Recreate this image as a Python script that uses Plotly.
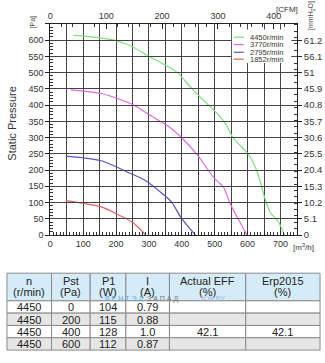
import plotly.graph_objects as go

# ---------------- data ----------------
speeds = ["4450r/min", "3770r/min", "2795r/min", "1852r/min"]
colors = ["rgb(125,225,125)", "rgb(225,105,225)", "rgb(85,85,205)", "rgb(225,95,95)"]

q_4450 = [70, 120, 194, 250, 300, 340, 386, 431, 471, 502, 532, 557, 603, 628, 643, 650, 668, 694, 712]
p_4450 = [615, 611, 600, 580, 550, 529, 501, 450, 410, 380, 344, 298, 248, 197, 147, 121, 71, 40, 0]
q_3770 = [62, 158, 254, 300, 360, 401, 446, 497, 527, 547, 573, 598]
p_3770 = [447, 435, 400, 371, 334, 298, 248, 177, 147, 96, 46, 0]
q_2795 = [47, 98, 158, 239, 290, 340, 370, 396, 441]
p_2795 = [243, 238, 228, 192, 167, 128, 100, 56, 0]
q_1852 = [47, 98, 158, 199, 249, 290]
p_1852 = [106, 98, 86, 66, 40, 0]

pa_ticks = list(range(0, 651, 50))
mmh2o_ticks = ["0", "5.1", "10.2", "15.3", "20.4", "25.5", "30.6", "35.7", "40.8", "45.9", "51", "56.1", "61.2"]
m3h_ticks = list(range(0, 751, 50))
cfm_ticks = [0, 100, 200, 300, 400]

tbl_header_top = ["n", "Pst", "P1", "I", "Actual EFF", "Erp2015"]
tbl_header_bot = ["(r/min)", "(Pa)", "(W)", "(A)", "(%)", "(%)"]
tbl_n = ["4450", "4450", "4450", "4450"]
tbl_pst = ["0", "200", "400", "600"]
tbl_p1 = ["104", "115", "128", "112"]
tbl_i = ["0.79", "0.88", "1.0", "0.87"]
tbl_eff = ["", "", "42.1", ""]
tbl_erp = ["", "", "42.1", ""]

# ---------------- layout helpers ----------------
W, H = 325, 363
def px(x): return x / W
def py(y): return 1 - y / H

FONT = "Liberation Sans, Arial, sans-serif"
TICKC = "#333"
GRIDC = "#444"

fig = go.Figure()

# helper traces so the secondary axes are drawn (added first so they sit underneath)
fig.add_trace(go.Scatter(x=[0], y=[0], xaxis="x2", yaxis="y", mode="markers",
                         marker=dict(opacity=0), showlegend=False, hoverinfo="skip"))
fig.add_trace(go.Scatter(x=[0], y=[0], xaxis="x", yaxis="y2", mode="markers",
                         marker=dict(opacity=0), showlegend=False, hoverinfo="skip"))

series = [(q_4450, p_4450), (q_3770, p_3770), (q_2795, p_2795), (q_1852, p_1852)]
for (q, p), name, col in zip(series, speeds, colors):
    fig.add_trace(go.Scatter(x=q, y=p, mode="lines", name=name,
                             line=dict(color=col, width=1.2, shape="spline", smoothing=0.8),
                             showlegend=False, hoverinfo="skip"))

x_dom = [px(47.7), px(296.7)]
y_dom = [py(238.3), py(24.3)]

fig.update_layout(
    width=W, height=H,
    margin=dict(l=0, r=0, t=0, b=0),
    paper_bgcolor="white", plot_bgcolor="rgba(0,0,0,0)",
    font=dict(family=FONT, size=9, color=TICKC),
    xaxis=dict(domain=x_dom, range=[0, 750], tickvals=m3h_ticks,
               ticktext=[str(v) if v % 100 == 0 and v < 750 else "" for v in m3h_ticks],
               showgrid=True, gridcolor=GRIDC, gridwidth=1,
               showline=True, linecolor="#222", linewidth=1,
               ticks="inside", ticklen=4, tickcolor="#222",
               minor=dict(dtick=10, ticks="inside", ticklen=3, tickcolor="#333", showgrid=False),
               tickfont=dict(size=9, color=TICKC), zeroline=False, fixedrange=True),
    yaxis=dict(domain=y_dom, range=[0, 650], tickvals=pa_ticks,
               ticktext=[str(v) if v <= 600 else "" for v in pa_ticks],
               showgrid=True, gridcolor=GRIDC, gridwidth=1,
               showline=True, linecolor="#222", linewidth=1,
               ticks="outside", ticklen=4, tickcolor="#222",
               minor=dict(dtick=10, ticks="inside", ticklen=3, tickcolor="#333", showgrid=False),
               tickfont=dict(size=9, color=TICKC), zeroline=False, fixedrange=True),
    xaxis2=dict(domain=x_dom, side="top", anchor="y", range=[0, 750 / 1.699],
                tickvals=cfm_ticks, showgrid=False, showticklabels=True,
                showline=True, linecolor="#222", linewidth=1,
                ticks="inside", ticklen=5, tickcolor="#222",
                minor=dict(dtick=20, ticks="inside", ticklen=3, tickcolor="#333", showgrid=False),
                tickfont=dict(size=9, color=TICKC), zeroline=False, fixedrange=True),
    yaxis2=dict(overlaying="y", side="right", anchor="x", range=[0, 650 / 9.80665],
                tickvals=[v / 9.80665 for v in pa_ticks[:13]], ticktext=mmh2o_ticks,
                showgrid=False, showline=True, linecolor="#222", linewidth=1,
                ticks="outside", ticklen=4, tickcolor="#222",
                minor=dict(dtick=2, ticks="inside", ticklen=3, tickcolor="#333"),
                tickfont=dict(size=9.5, color=TICKC), zeroline=False, fixedrange=True),
)

shapes = []
annots = []

# ---------------- legend (custom, compact) ----------------
shapes.append(dict(type="rect", xref="paper", yref="paper", x0=px(231), x1=px(291), y0=py(64), y1=py(30),
                   fillcolor="white", line=dict(width=0), layer="above"))
leg_y = [37.7, 45.2, 53.0, 60.0]
for name, col, yy in zip(speeds, colors, leg_y):
    shapes.append(dict(type="line", xref="paper", yref="paper", x0=px(233), x1=px(243),
                       y0=py(yy), y1=py(yy), line=dict(color=col, width=1.2), layer="above"))
    annots.append(dict(text=name, xref="paper", yref="paper", x=px(247), y=py(yy),
                       xanchor="left", yanchor="middle", showarrow=False,
                       font=dict(size=7.5, color="#333", family=FONT)))

# axis unit labels
units = [
    dict(text="[Pa]", x=px(30), y=py(22), textangle=-90, font=dict(size=7, color="#444")),
    dict(text="[CFM]", x=px(287), y=py(10), font=dict(size=8, color="#333")),
    dict(text="[mmH<sub>2</sub>O]", x=px(311), y=py(16), textangle=-90, font=dict(size=7, color="#444")),
    dict(text="[m<sup>3</sup>/h]", x=px(303), y=py(250), font=dict(size=8, color="#333")),
    dict(text="Static Pressure", x=px(9.5), y=py(125), textangle=-90, font=dict(size=11, color="#333")),
]
for a in units:
    a.update(xref="paper", yref="paper", showarrow=False, xanchor="center", yanchor="middle")
    a["font"]["family"] = FONT
annots += units

# ---------------- table (cells drawn as rectangles + text) ----------------
col_widths = [45, 39, 36, 44, 77, 75]
tbl_x0 = 4
hdr_top, hdr_h, row_h = 277, 28, 12.5
row_fill = ["white", "#e6e6e6", "white", "#e6e6e6"]
columns = [tbl_n, tbl_pst, tbl_p1, tbl_i, tbl_eff, tbl_erp]
edges = [tbl_x0]
for w in col_widths:
    edges.append(edges[-1] + w)
BORDER = "#8a8a8a"
TFONT = dict(family=FONT, size=11, color="#222")
for ci in range(len(columns)):
    xa, xb = edges[ci], edges[ci + 1]
    xc = (xa + xb) / 2
    shapes.append(dict(type="rect", xref="paper", yref="paper", x0=px(xa), x1=px(xb),
                       y0=py(hdr_top + hdr_h), y1=py(hdr_top), fillcolor="#d5ebf8",
                       line=dict(color=BORDER, width=1), layer="above"))
    annots.append(dict(text=tbl_header_top[ci], x=px(xc), y=py(hdr_top + 7.5)))
    annots.append(dict(text=tbl_header_bot[ci], x=px(xc), y=py(hdr_top + 19.5)))
    for ri, val in enumerate(columns[ci]):
        ya = hdr_top + hdr_h + ri * row_h
        shapes.append(dict(type="rect", xref="paper", yref="paper", x0=px(xa), x1=px(xb),
                           y0=py(ya + row_h), y1=py(ya), fillcolor=row_fill[ri],
                           line=dict(color=BORDER, width=1), layer="above"))
        if val:
            annots.append(dict(text=val, x=px(xc), y=py(ya + row_h / 2 + 0.3)))
for a in annots:
    if "xref" not in a:
        a.update(xref="paper", yref="paper", showarrow=False, xanchor="center", yanchor="middle",
                 font=dict(TFONT))

# watermark text over table
wm = [
    dict(text="В Е Н Т Э Л", x=px(101), y=py(303), font=dict(size=7, color="#5fa8e0")),
    dict(text="З А П А Д", x=px(143), y=py(303), font=dict(size=7, color="#777")),
    dict(text="V W.BY", x=px(198), y=py(303), font=dict(size=7, color="#9bb9d8")),
]
for a in wm:
    a.update(xref="paper", yref="paper", showarrow=False, xanchor="left", yanchor="middle")
    a["font"]["family"] = FONT
annots += wm

fig.update_layout(shapes=shapes, annotations=annots)
fig.write_html("out.html")
